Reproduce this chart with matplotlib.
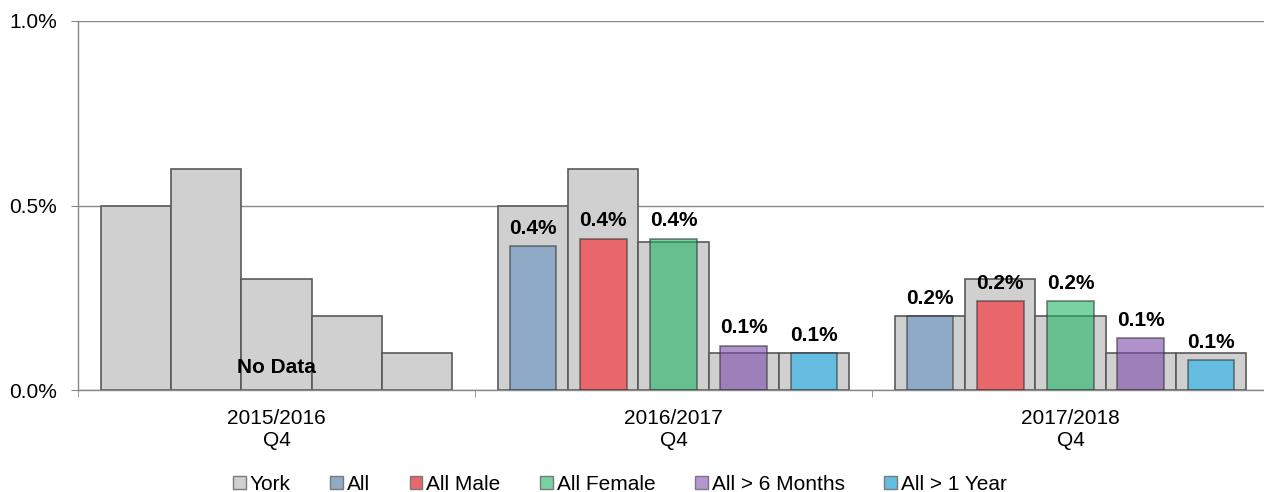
import numpy as np
import matplotlib
matplotlib.use("Agg")
import matplotlib.pyplot as plt
from matplotlib.patches import Patch

plt.rcParams["font.family"] = ["Liberation Sans", "DejaVu Sans"]
plt.rcParams["font.size"] = 15

groups = ["2015/2016\nQ4", "2016/2017\nQ4", "2017/2018\nQ4"]
series = ["All", "All Male", "All Female", "All > 6 Months", "All > 1 Year"]

# York comparison values (percent), one list per series
york_all = [0.5, 0.5, 0.2]
york_male = [0.6, 0.6, 0.3]
york_female = [0.3, 0.4, 0.2]
york_6m = [0.2, 0.1, 0.1]
york_1y = [0.1, 0.1, 0.1]

# local values (percent), first period has no data
val_all = [np.nan, 0.39, 0.20]
val_male = [np.nan, 0.41, 0.24]
val_female = [np.nan, 0.41, 0.24]
val_6m = [np.nan, 0.12, 0.14]
val_1y = [np.nan, 0.10, 0.08]

york = [york_all, york_male, york_female, york_6m, york_1y]
vals = [val_all, val_male, val_female, val_6m, val_1y]

colors = ["#6491c1", "#f82126", "#1fb562", "#7b49ab", "#1cb0eb"]
legend_colors = ["#8faac7", "#e8676a", "#78d2a0", "#b596d3", "#64bde0"]
york_color = "#d0d0d0"
edge = "#5a5a5a"

fig = plt.figure(figsize=(12.64, 4.92), dpi=100)
ax = fig.add_axes([78 / 1264, 102 / 492, 1191 / 1264, 369 / 492])

x = np.arange(len(groups))
wy = 0.177
wc = 0.118

for k in range(len(series)):
    off = (k - 2) * wy
    ax.bar(x + off, york[k], width=wy, color=york_color, edgecolor=edge,
           linewidth=1.2, zorder=2)
    ax.bar(x + off, vals[k], width=wc, color=colors[k], alpha=0.6,
           edgecolor="#333333", linewidth=1.2, zorder=3)
    for i, v in enumerate(vals[k]):
        if np.isnan(v):
            continue
        ax.annotate(f"{v:.1f}%", (x[i] + off, v), xytext=(0, 6),
                    textcoords="offset points", ha="center", va="bottom",
                    fontweight="bold", fontsize=15, zorder=5)

ax.text(x[0], 0.06, "No Data", ha="center", va="center",
        fontweight="bold", fontsize=15, zorder=5)

ax.set_xlim(-0.5, 2.5)
ax.set_ylim(0, 1.0)
ax.set_yticks([0, 0.5, 1.0])
ax.set_yticklabels(["0.0%", "0.5%", "1.0%"])
ax.set_xticks(x)
ax.set_xticklabels(groups, linespacing=1.2)
ax.set_xticks([-0.5, 0.5, 1.5, 2.5], minor=True)
ax.tick_params(axis="x", which="major", length=0, pad=14)
ax.tick_params(axis="x", which="minor", length=5, color="#888888")
ax.tick_params(axis="y", length=5, color="#888888", pad=10)

ax.grid(axis="y", color="#888888", linewidth=1.0, zorder=0)
ax.set_axisbelow(True)
for s in ["top", "right"]:
    ax.spines[s].set_visible(False)
for s in ["left", "bottom"]:
    ax.spines[s].set_color("#888888")
    ax.spines[s].set_linewidth(1.0)

handles = [Patch(facecolor=york_color, edgecolor="#7a7a7a", label="York")]
for c, name in zip(legend_colors, series):
    handles.append(Patch(facecolor=c, edgecolor="#7a7a7a", label=name))
fig.legend(handles=handles, loc="center", bbox_to_anchor=(620 / 1264, 8 / 492),
           ncol=6, frameon=False, handlelength=0.6, handleheight=0.6,
           handletextpad=0.2, columnspacing=1.9, fontsize=15)

plt.savefig("out.png", dpi=100)
